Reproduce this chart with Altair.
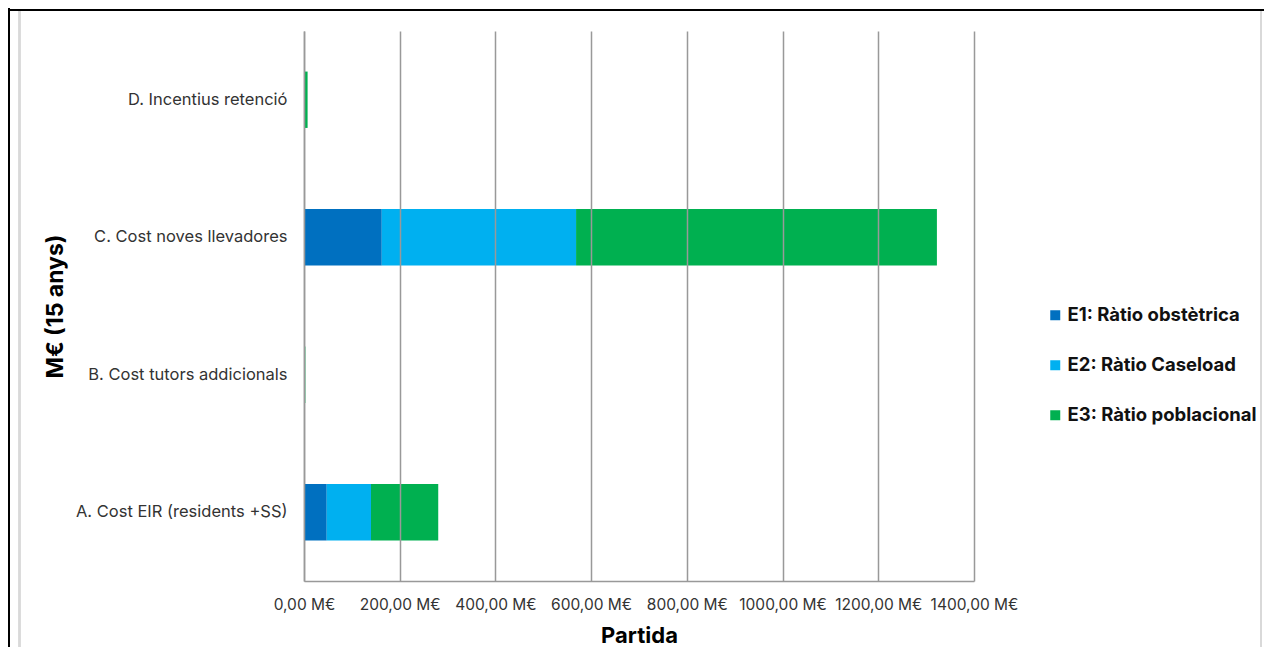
import altair as alt
import pandas as pd

categories = ["A. Cost EIR (residents +SS)", "B. Cost tutors addicionals",
              "C. Cost noves llevadores", "D. Incentius retenció"]
series = ["E1: Ràtio obstètrica", "E2: Ràtio Caseload", "E3: Ràtio poblacional"]
e1_values = [47.5, 0.3, 162.5, 0.5]
e2_values = [92.5, 0.5, 406.0, 1.0]
e3_values = [140.5, 2.0, 754.0, 6.0]
x_ticks = [0, 200, 400, 600, 800, 1000, 1200, 1400]
colors = ["#0070C0", "#00B0F0", "#00B050"]

rows = []
for s, vals in zip(series, [e1_values, e2_values, e3_values]):
    for c, v in zip(categories, vals):
        rows.append({"Partida": c, "Escenari": s, "Valor": v})
df = pd.DataFrame(rows)

FONT = "Inter"

bars = alt.Chart(df).mark_bar().encode(
    y=alt.Y("Partida:N", sort=list(reversed(categories)),
            scale=alt.Scale(paddingInner=0.59, paddingOuter=0.295),
            axis=alt.Axis(title="M€ (15 anys)", labelPadding=17, tickSize=0, ticks=False,
                          labelFontSize=16.5, labelColor="#333333", labelFont=FONT,
                          labelLimit=400,
                          domainColor="#999999", domainWidth=1.5,
                          titleFontSize=23, titleFontWeight="bold", titleFont=FONT,
                          titleColor="#000000", titleAngle=270, titleX=-249, titleY=275,
                          titleBaseline="middle", titleAlign="center")),
    x=alt.X("Valor:Q", scale=alt.Scale(domain=[0, 1400], nice=False),
            axis=alt.Axis(values=x_ticks, title="Partida", grid=True, gridColor="#999999",
                          gridWidth=1.5, zindex=1, ticks=False, tickSize=0, labelPadding=16,
                          labelBaseline="top", labelFontSize=15.5, labelColor="#333333",
                          labelFont=FONT, domainColor="#999999", domainWidth=1.5,
                          labelOverlap=False, labelFlush=False, labelLimit=200,
                          labelExpr="replace(format(datum.value, '.2f'), '.', ',') + ' M€'",
                          titleFontSize=22, titleFontWeight="bold", titleFont=FONT,
                          titleColor="#000000", titleY=54, titleX=335,
                          titleBaseline="middle", titleAlign="center")),
    color=alt.Color("Escenari:N", scale=alt.Scale(domain=series, range=colors),
                    legend=alt.Legend(title=None, orient="none", legendX=742, legendY=275,
                                      symbolType="square", symbolSize=100, symbolStrokeWidth=0,
                                      labelFontSize=18.5, labelFontWeight="bold", labelFont=FONT,
                                      labelColor="#111111", rowPadding=31, labelOffset=3,
                                      labelLimit=400)),
    order=alt.Order("Escenari:N"),
)

black_v = alt.Chart(df).mark_rule(color="#000000", strokeWidth=2).encode(
    x=alt.value(-295), y=alt.value(-24), y2=alt.value(660))
black_h = alt.Chart(df).mark_rule(color="#000000", strokeWidth=2).encode(
    y=alt.value(-21), x=alt.value(-296), x2=alt.value(960))
gray_l = alt.Chart(df).mark_rule(color="#D9D9D9", strokeWidth=1.5).encode(
    x=alt.value(-284.5), y=alt.value(-20), y2=alt.value(660))
gray_r = alt.Chart(df).mark_rule(color="#D9D9D9", strokeWidth=1.5).encode(
    x=alt.value(957), y=alt.value(-20), y2=alt.value(660))

chart = alt.layer(bars, black_v, black_h, gray_l, gray_r).properties(
    width=670, height=550,
    autosize=alt.AutoSizeParams(type="none"),
    padding={"left": 296, "top": 23, "right": 290, "bottom": 66},
    background="#ffffff",
).configure_view(stroke=None)

chart.save("out.html", embed_options={"renderer": "svg", "actions": False})
